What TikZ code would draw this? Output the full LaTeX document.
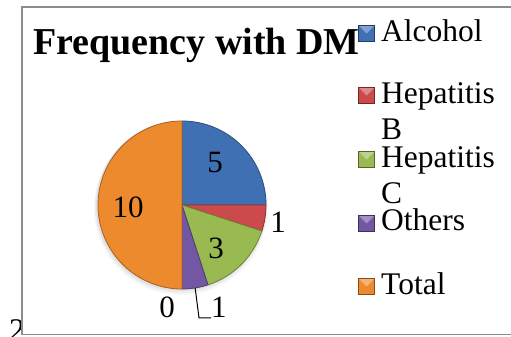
\documentclass[tikz,border=0pt]{standalone}
\usepackage{fontspec}
\setmainfont{Liberation Serif}
\usetikzlibrary{calc}
\definecolor{cAlc}{HTML}{3F70B4}
\definecolor{cHB}{HTML}{CC4A4C}
\definecolor{cHC}{HTML}{98BA50}
\definecolor{cOth}{HTML}{7357A2}
\definecolor{cTot}{HTML}{EE8A2E}
\definecolor{frame}{HTML}{8C8C8C}
\tikzset{
  slice/.style={fill=#1, draw=#1!70!black, line width=0.8pt, line join=round},
  keybox/.style={draw=#1!55!black, fill=#1, line width=0.8pt, minimum size=16pt, inner sep=0pt,
    path picture={\fill[white, opacity=0.35] (path picture bounding box.north west) -- (path picture bounding box.north east) -- (path picture bounding box.center) -- cycle;}},
  legtext/.style={anchor=base west, inner sep=0pt, font=\fontsize{31.5}{36}\selectfont},
  pielabel/.style={inner sep=0pt, font=\fontsize{31}{34}\selectfont},
  leader/.style={draw=black, line width=1pt},
}
\begin{document}
\begin{tikzpicture}[x=1pt,y=1pt]
\useasboundingbox (0,0) rectangle (511,337);
\fill[white] (0,0) rectangle (511,337);
% stray digit at the lower left
\node[legtext] (stray) at (9,-4) {2};
% frame
\coordinate (ftr) at (515,330);
\coordinate (ftl) at (22,330);
\coordinate (fbl) at (22,2.5);
\coordinate (fbr) at (515,2.5);
\draw[frame, line width=1.6pt] (ftr) -- (ftl) -- (fbl) -- (fbr);
% title
\node[anchor=base west, inner sep=0pt, font=\fontsize{38}{40}\selectfont\bfseries] (title) at (33,282) {Frequency with DM};
% pie
\coordinate (pc) at (182,132);
\foreach \k/\o in {1/0.05,2/0.04,3/0.03}{
  \fill[black, opacity=\o] ([xshift=-1pt, yshift=-\k pt]pc) circle[radius=84+\k];
}
\fill[slice=cAlc] (pc) -- ++(90:84) arc[start angle=90, end angle=0, radius=84] -- cycle;
\fill[slice=cHB] (pc) -- ++(0:84) arc[start angle=0, end angle=-18, radius=84] -- cycle;
\fill[slice=cHC] (pc) -- ++(-18:84) arc[start angle=-18, end angle=-72, radius=84] -- cycle;
\fill[slice=cOth] (pc) -- ++(-72:84) arc[start angle=-72, end angle=-90, radius=84] -- cycle;
\fill[slice=cTot] (pc) -- ++(-90:84) arc[start angle=-90, end angle=-270, radius=84] -- cycle;
% pie labels
\node[pielabel] (lAlc) at (215,174) {5};
\node[pielabel] (lHB) at (278,115) {1};
\node[pielabel] (lHC) at (216,89) {3};
\node[pielabel] (lTot) at (128,130) {10};
\node[pielabel, anchor=base] (lZero) at (167,19) {0};
\node[pielabel, anchor=base west] (lOth) at (211,19) {1};
\coordinate (oStart) at ($(pc)+(-81:84)$);
\coordinate (oCorner) at (199,19);
\draw[leader] (oStart) -- (oCorner) -- (lOth.base west);
% legend
\node[keybox=cAlc] (kAlc) at (366.5,303.5) {};
\node[keybox=cHB] (kHB) at (366.5,241.5) {};
\node[keybox=cHC] (kHC) at (366.5,177.5) {};
\node[keybox=cOth] (kOth) at (366.5,113.5) {};
\node[keybox=cTot] (kTot) at (366.5,50.5) {};
\node[legtext] (tAlc) at (381,295) {Alcohol};
\node[legtext] (tHB) at (381,233) {Hepatitis};
\node[legtext] (tHBb) at (381,197) {B};
\node[legtext] (tHC) at (381,169) {Hepatitis};
\node[legtext] (tHCc) at (381,133) {C};
\node[legtext] (tOth) at (381,106) {Others};
\node[legtext] (tTot) at (381,42) {Total};
\end{tikzpicture}
\end{document}
